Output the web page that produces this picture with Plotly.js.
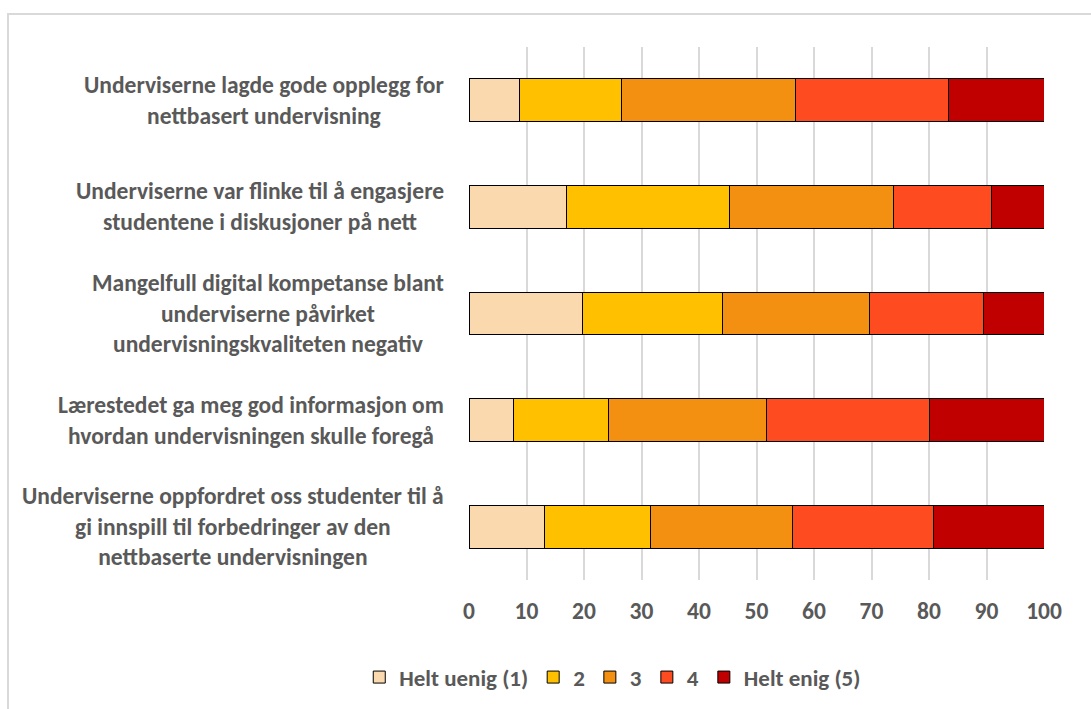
<!DOCTYPE html>
<html>
<head>
<meta charset="utf-8">
<script src="https://cdn.plot.ly/plotly-3.0.1.min.js"></script>
<style>
html,body{margin:0;padding:0;background:#fff;}
#wrap{position:relative;width:1091px;height:709px;}
#chart{position:absolute;left:0;top:0;width:1091px;height:709px;}
#frame{position:absolute;left:7px;top:13px;width:1100px;height:720px;border-left:2px solid #d9d9d9;border-top:2px solid #d9d9d9;pointer-events:none;}
</style>
</head>
<body>
<div id="wrap"><div id="chart"></div><div id="frame"></div></div>
<script>
const categories = [
  "Underviserne lagde gode opplegg for<br>nettbasert undervisning",
  "Underviserne var flinke til å engasjere<br>studentene i diskusjoner på nett",
  "Mangelfull digital kompetanse blant<br>underviserne påvirket<br>undervisningskvaliteten negativ",
  "Lærestedet ga meg god informasjon om<br>hvordan undervisningen skulle foregå",
  "Underviserne oppfordret oss studenter til å<br>gi innspill til forbedringer av den<br>nettbaserte undervisningen"
];
const seriesNames = ["Helt uenig (1)", "2", "3", "4", "Helt enig (5)"];
const helt_uenig = [8.8, 17.0, 19.8, 7.7, 13.1];
const s2 = [17.8, 28.3, 24.3, 16.6, 18.5];
const s3 = [30.2, 28.5, 25.6, 27.4, 24.6];
const s4 = [26.6, 17.0, 19.7, 28.3, 24.5];
const helt_enig = [16.6, 9.2, 10.6, 20.0, 19.3];
const seriesValues = [helt_uenig, s2, s3, s4, helt_enig];
const colors = ["#FAD9AF", "#FFC000", "#F39011", "#FF4B20", "#C00000"];
const xTicks = [0,10,20,30,40,50,60,70,80,90,100];

const FONT = "Carlito, Lato, 'Liberation Sans Narrow', sans-serif";
const GRAY = "#595959";

const traces = seriesValues.map((vals, i) => ({
  type: "bar",
  orientation: "h",
  name: seriesNames[i],
  y: categories,
  x: vals,
  marker: {color: colors[i], line: {color: "#000000", width: 1}},
  hoverinfo: "x+name"
}));

const annotations = categories.map(c => ({
  xref: "paper", yref: "y",
  x: -0.04, y: c,
  xanchor: "right", yanchor: "middle",
  text: c, align: "center", showarrow: false,
  font: {family: FONT, size: 23.5, color: GRAY, weight: "bold"}
}));

const layout = {
  width: 1091, height: 709,
  margin: {l: 469, r: 47, t: 47, b: 128},
  barmode: "stack",
  bargap: 0.6,
  paper_bgcolor: "#ffffff",
  plot_bgcolor: "#ffffff",
  showlegend: true,
  legend: {
    orientation: "h", x: 0.25, xanchor: "center", y: -0.18, yanchor: "middle",
    xref: "paper", traceorder: "normal",
    font: {family: FONT, size: 23, color: GRAY, weight: "bold"},
    itemwidth: 30
  },
  xaxis: {
    range: [0, 100], tickvals: xTicks, ticktext: xTicks.map(String),
    showgrid: true, gridcolor: "#d9d9d9", gridwidth: 2,
    zeroline: false, showline: false,
    ticks: "", ticklabelstandoff: 14,
    tickfont: {family: FONT, size: 23.5, color: GRAY, weight: "bold"},
    fixedrange: true
  },
  yaxis: {
    autorange: "reversed", showticklabels: false, showgrid: false,
    zeroline: false, showline: false, ticks: "", fixedrange: true
  },
  annotations: annotations
};

Plotly.newPlot("chart", traces, layout, {displayModeBar: false, staticPlot: true});
</script>
</body>
</html>
